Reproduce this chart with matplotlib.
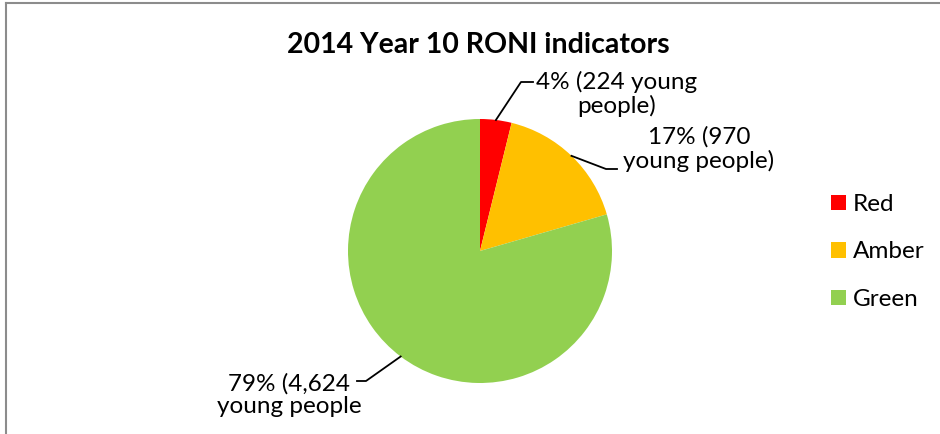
import numpy as np
import matplotlib
matplotlib.use("Agg")
import matplotlib.pyplot as plt
from matplotlib.lines import Line2D

plt.rcParams['font.family'] = ['Lato', 'DejaVu Sans']

categories = ["Red", "Amber", "Green"]
counts = [224, 970, 4624]
percent_labels = ["4% (224 young\npeople)", "17% (970\nyoung people)", "79% (4,624\nyoung people"]
colors = ["#FF0000", "#FFC000", "#92D050"]
title = "2014 Year 10 RONI indicators"

W, H = 940, 434
fig = plt.figure(figsize=(W / 100, H / 100), dpi=100)

cx, cy, R = 480, 251, 132
ax = fig.add_axes([(cx - R) / W, (H - cy - R) / H, 2 * R / W, 2 * R / H])
wedges, _ = ax.pie(counts, colors=colors, startangle=90, counterclock=False,
                   radius=1, wedgeprops=dict(linewidth=0))
ax.set_xlim(-1, 1)
ax.set_ylim(-1, 1)
ax.set_aspect('equal')
ax.axis('off')

def px2data(px, py):
    return (px - cx) / R, (cy - py) / R

# leader lines: elbow & end in pixel layout, text centre in pixels
leader = [((521, 82), (533, 82), (617, 94)),
          ((606, 169), (617, 169), (699, 149)),
          ((366, 381), (357, 381), (289, 395))]
for w, lab, (elb, end, tc) in zip(wedges, percent_labels, leader):
    mid = np.deg2rad((w.theta1 + w.theta2) / 2)
    p0 = (np.cos(mid), np.sin(mid))
    e = px2data(*elb)
    f = px2data(*end)
    ax.add_line(Line2D([p0[0], e[0], f[0]], [p0[1], e[1], f[1]], color='black',
                       lw=1.3, clip_on=False))
    tx, ty = px2data(*tc)
    ax.text(tx, ty, lab, ha='center', va='center', fontsize=17.5,
            linespacing=1.12, clip_on=False, color='#000000')

fig.text(478 / W, 1 - 45 / H, title, ha='center', va='center', fontsize=20.5,
         fontweight='bold')

leg = fig.legend(wedges, categories, loc='center left',
                 bbox_to_anchor=(821 / W, 1 - 252 / H), frameon=False,
                 fontsize=17.5, handlelength=0.62, handleheight=0.62,
                 handletextpad=0.29, labelspacing=1.09, borderaxespad=0)

# chart frame (left and top edges visible)
fig.add_artist(Line2D([6 / W, 6 / W], [0, 1 - 3 / H], color='#8C8C8C', lw=1.5))
fig.add_artist(Line2D([6 / W, 1], [1 - 3 / H, 1 - 3 / H], color='#8C8C8C', lw=1.5))

fig.savefig("out.png", dpi=100)
